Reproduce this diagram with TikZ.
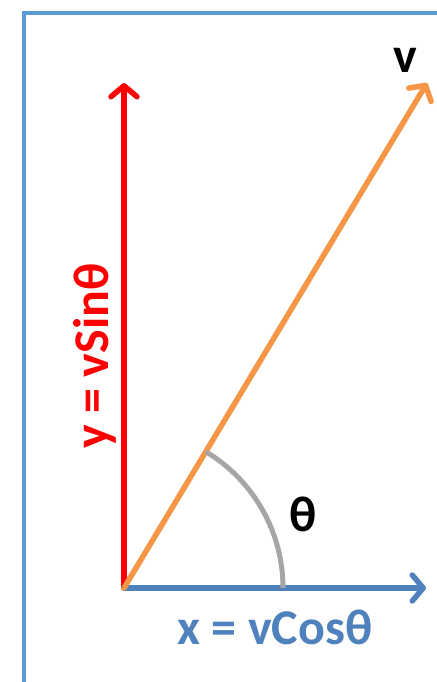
\documentclass[tikz,border=0pt]{standalone}
\usepackage{fontspec}
\setmainfont{Carlito}
\usetikzlibrary{arrows.meta}
\definecolor{frameblue}{HTML}{5B9BD5}
\definecolor{xblue}{HTML}{4F81BD}
\definecolor{vorange}{HTML}{F79646}
\definecolor{arcgray}{HTML}{A6A6A6}

\begin{document}
\begin{tikzpicture}[x=1pt,y=-1pt,
  vec/.style={line width=5.5pt,line cap=round,line join=round,
    -{Straight Barb[length=11pt,width=26pt,round]}},
  lbl/.style={inner sep=0pt,font=\bfseries\fontsize{50}{50}\selectfont}]
\useasboundingbox (0,0) rectangle (436,682);
\draw[frameblue,line width=3.5pt] (24,700) -- (24,13) -- (460,13);

\coordinate (o) at (124,588);
\coordinate (ytip) at (124,83);
\coordinate (xtip) at (426,588);
\coordinate (vtip) at (427,83);
\coordinate (a0) at (283,588);

\draw[vec,red] (o) -- (ytip);
\draw[vec,xblue] (o) -- (xtip);
\draw[vec,vorange] (o) -- (vtip);
\draw[arcgray,line width=5pt] (a0) arc[start angle=0,end angle=-59,radius=159];

\node[lbl] (vlab) at (405,60) {v};
\node[lbl] (thlab) at (303,514) {θ};
\node[lbl,text=xblue] (xlab) at (275,627) {x = vCosθ};
\node[lbl,text=red,rotate=90,anchor=base] (ylab) at (108,356) {y = vSinθ};
\end{tikzpicture}
\end{document}
